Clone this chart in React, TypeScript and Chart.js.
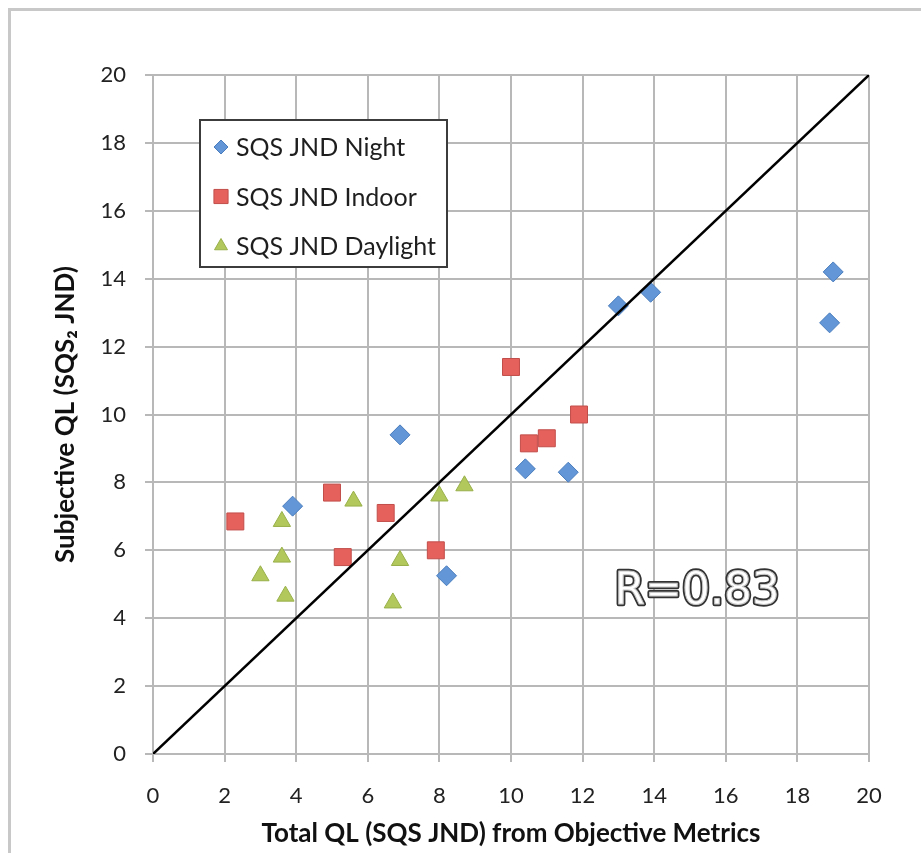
import React, { useEffect, useRef } from "react";
import { Chart, registerables } from "chart.js";
import { drawPoint } from "chart.js/helpers";

Chart.register(...registerables);

// ---- data ----
const seriesNames = ["SQS JND Night", "SQS JND Indoor", "SQS JND Daylight"];

const nightX = [3.9, 6.9, 8.2, 10.4, 11.6, 13.0, 13.9, 18.9, 19.0];
const nightY = [7.3, 9.4, 5.25, 8.4, 8.3, 13.2, 13.6, 12.7, 14.2];

const indoorX = [2.3, 5.0, 5.3, 6.5, 7.9, 10.0, 10.5, 11.0, 11.9];
const indoorY = [6.85, 7.7, 5.8, 7.1, 6.0, 11.4, 9.15, 9.3, 10.0];

const daylightX = [3.0, 3.6, 3.6, 3.7, 5.6, 6.7, 6.9, 8.0, 8.7];
const daylightY = [5.25, 6.85, 5.8, 4.65, 7.45, 4.45, 5.7, 7.6, 7.9];

const fitLineX = [0, 20];
const fitLineY = [0, 20];

const axisMin = 0;
const axisMax = 20;
const tickStep = 2;

const xTitle = "Total QL (SQS JND) from Objective Metrics";
const yTitle = "Subjective QL (SQS\u2082 JND)";

const correlationLabel = "R=0.83";
const correlationX = 15.2;
const correlationY = 4.75;

// ---- styles ----
const FONT = "Lato, 'Open Sans', sans-serif";
const GRID = "#b8b8b8";

const seriesStyles = [
  { pointStyle: "rectRot", radius: 10, bg: "#6296d6", border: "#4a7dbd", legendRadius: 7 },
  { pointStyle: "rect", radius: 12, bg: "#e4615c", border: "#c24e4a", legendRadius: 10 },
  { pointStyle: "triangle", radius: 10, bg: "#b2c75c", border: "#98b04a", legendRadius: 7.5 },
];

const toPoints = (xs: number[], ys: number[]) => xs.map((x, i) => ({ x, y: ys[i] }));

const boxLegendPlugin = {
  id: "boxLegend",
  afterDatasetsDraw(chart: any) {
    const { ctx, chartArea } = chart;
    const left = chartArea.left + 47;
    const top = chartArea.top + 45;
    const w = 247;
    const h = 147;
    ctx.save();
    ctx.fillStyle = "#ffffff";
    ctx.fillRect(left, top, w, h);
    ctx.strokeStyle = "#3c3c3c";
    ctx.lineWidth = 2;
    ctx.strokeRect(left, top, w, h);
    seriesNames.forEach((name, i) => {
      const st = seriesStyles[i];
      const cy = top + 27 + i * 49.5;
      ctx.fillStyle = st.bg;
      ctx.strokeStyle = st.border;
      ctx.lineWidth = 1;
      drawPoint(ctx, { pointStyle: st.pointStyle, radius: st.legendRadius, borderWidth: 1, rotation: 0 } as any, left + 21, cy);
      ctx.fillStyle = "#1e1e1e";
      ctx.font = `25px ${FONT}`;
      ctx.textAlign = "left";
      ctx.textBaseline = "middle";
      ctx.fillText(name, left + 36, cy + 1);
    });
    ctx.restore();
  },
};

const correlationPlugin = {
  id: "correlationText",
  afterDatasetsDraw(chart: any) {
    const { ctx, scales } = chart;
    const x = scales.x.getPixelForValue(correlationX);
    const y = scales.y.getPixelForValue(correlationY);
    ctx.save();
    ctx.font = `44px 'DejaVu Sans', sans-serif`;
    ctx.textAlign = "center";
    ctx.textBaseline = "middle";
    ctx.lineJoin = "round";
    ctx.lineWidth = 4.5;
    ctx.strokeStyle = "#333333";
    ctx.strokeText(correlationLabel, x, y);
    ctx.fillStyle = "#ffffff";
    ctx.fillText(correlationLabel, x, y);
    ctx.lineWidth = 1;
    ctx.strokeStyle = "#c8c8c8";
    ctx.strokeText(correlationLabel, x, y);
    ctx.restore();
  },
};

export default function App() {
  const canvasRef = useRef<HTMLCanvasElement | null>(null);

  useEffect(() => {
    if (!canvasRef.current) return;
    const axisCommon = {
      type: "linear" as const,
      min: axisMin,
      max: axisMax,
      grid: { color: GRID, lineWidth: 2, tickLength: 8, drawTicks: true },
      border: { color: GRID, width: 2 },
    };
    const chart = new Chart(canvasRef.current, {
      data: {
        datasets: [
          {
            type: "line",
            label: "fit",
            data: toPoints(fitLineX, fitLineY),
            borderColor: "#000000",
            borderWidth: 2.5,
            pointRadius: 0,
            fill: false,
            order: 0,
          },
          ...[
            [nightX, nightY],
            [indoorX, indoorY],
            [daylightX, daylightY],
          ].map(([xs, ys], i) => ({
            type: "scatter" as const,
            label: seriesNames[i],
            data: toPoints(xs, ys),
            pointStyle: seriesStyles[i].pointStyle as any,
            pointRadius: seriesStyles[i].radius,
            backgroundColor: seriesStyles[i].bg,
            borderColor: seriesStyles[i].border,
            borderWidth: 1,
            order: 1,
          })),
        ],
      },
      options: {
        animation: false,
        responsive: false,
        devicePixelRatio: 1,
        layout: { padding: { top: 75, right: 52, left: 0, bottom: 0 } },
        plugins: { legend: { display: false }, tooltip: { enabled: false } },
        scales: {
          x: {
            ...axisCommon,
            position: "bottom",
            ticks: { stepSize: tickStep, color: "#222", font: { family: FONT, size: 22 }, padding: 21 },
            title: {
              display: true,
              text: xTitle,
              color: "#111",
              font: { family: FONT, size: 26, weight: "bold" },
              padding: { top: 0, bottom: 4 },
            },
            afterFit: (scale: any) => {
              scale.height = 99;
            },
          },
          y: {
            ...axisCommon,
            position: "left",
            ticks: { stepSize: tickStep, color: "#222", font: { family: FONT, size: 22 }, padding: 19 },
            title: {
              display: true,
              text: yTitle,
              color: "#111",
              font: { family: FONT, size: 26, weight: "bold" },
              padding: { top: 50, bottom: 0 },
            },
            afterFit: (scale: any) => {
              scale.width = 153;
            },
          },
        },
      },
      plugins: [boxLegendPlugin, correlationPlugin],
    } as any);
    return () => chart.destroy();
  }, []);

  return (
    <div style={{ position: "absolute", left: 0, top: 0, width: 921, height: 853, background: "#ffffff", overflow: "hidden" }}>
      <div
        style={{
          position: "absolute",
          left: 8,
          top: 8,
          width: 940,
          height: 870,
          borderLeft: "3px solid #c8c8c8",
          borderTop: "3px solid #c8c8c8",
        }}
      />
      <canvas ref={canvasRef} width={921} height={853} style={{ position: "absolute", left: 0, top: 0, width: 921, height: 853 }} />
    </div>
  );
}
